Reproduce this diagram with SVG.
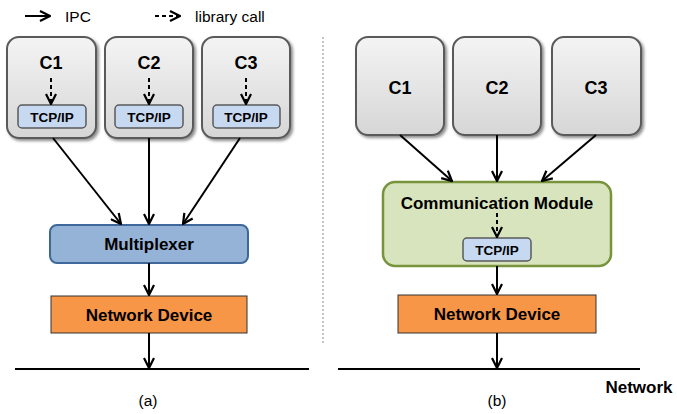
<svg xmlns="http://www.w3.org/2000/svg" width="677" height="414" viewBox="0 0 677 414">
<defs>
<linearGradient id="gray" x1="0" y1="0" x2="0" y2="1">
<stop offset="0" stop-color="#f4f4f4"/>
<stop offset="1" stop-color="#d6d6d6"/>
</linearGradient>
<filter id="sh" x="-10%" y="-10%" width="130%" height="130%">
<feDropShadow dx="2" dy="2" stdDeviation="1.5" flood-color="#000" flood-opacity="0.45"/>
</filter>
<marker id="ah" viewBox="0 0 12 12" refX="11" refY="6" markerWidth="12" markerHeight="12" markerUnits="userSpaceOnUse" orient="auto">
<path d="M1,1 L11,6 L1,11" fill="none" stroke="#000" stroke-width="2.2"/>
</marker>
</defs>
<style>
.cbox{fill:url(#gray);stroke:#5a5a5a;stroke-width:2;filter:url(#sh)}
.tcp{fill:#c6d9f1;stroke:#595959;stroke-width:1.5}
.lbl{font-family:"Liberation Sans",Arial,sans-serif;font-weight:bold;fill:#000;text-anchor:middle}
.cl{font-size:18px}
.tl{font-size:13.5px}
.bl{font-size:17px}
.nl{font-family:"Liberation Sans",Arial,sans-serif;fill:#000;font-size:15.5px}
.arr{stroke:#000;stroke-width:2;fill:none;marker-end:url(#ah)}
.dash{stroke:#000;stroke-width:2;fill:none;stroke-dasharray:4,3;marker-end:url(#ah)}
</style>

<g id="legend">
<line x1="25" y1="16" x2="50" y2="16" class="arr"/>
<text x="65" y="22" class="nl">IPC</text>
<line x1="155" y1="16" x2="180" y2="16" class="dash"/>
<text x="195" y="22" class="nl">library call</text>
</g>

<g id="a-c1">
<rect x="7" y="37" width="89" height="101" rx="12" class="cbox"/>
<text x="51" y="69" class="lbl cl">C1</text>
<rect x="18" y="105" width="68" height="23" rx="4" class="tcp"/>
<text x="52" y="121.5" class="lbl tl">TCP/IP</text>
</g>
<g id="a-c2">
<rect x="105" y="37" width="88" height="101" rx="12" class="cbox"/>
<text x="149" y="69" class="lbl cl">C2</text>
<rect x="115" y="105" width="68" height="23" rx="4" class="tcp"/>
<text x="149" y="121.5" class="lbl tl">TCP/IP</text>
</g>
<g id="a-c3">
<rect x="202" y="37" width="88" height="101" rx="12" class="cbox"/>
<text x="246" y="69" class="lbl cl">C3</text>
<rect x="213" y="105" width="67" height="23" rx="4" class="tcp"/>
<text x="246" y="121.5" class="lbl tl">TCP/IP</text>
</g>
<g id="a-mux">
<rect x="50" y="225" width="198" height="38" rx="7" fill="#95b3d7" stroke="#3d6899" stroke-width="2"/>
<text x="149" y="250" class="lbl bl">Multiplexer</text>
</g>
<g id="a-nd">
<rect x="51" y="296" width="196" height="37" fill="#f79646" stroke="#333" stroke-width="1"/>
<text x="149" y="320.5" class="lbl bl">Network Device</text>
</g>
<g id="a-net">
<line x1="15" y1="369" x2="309" y2="369" stroke="#000" stroke-width="2"/>
<text x="148" y="406" class="nl" text-anchor="middle">(a)</text>
</g>

<g id="sep">
<line x1="323" y1="37" x2="323" y2="343" stroke="#888" stroke-width="1" stroke-dasharray="2,2"/>
</g>

<g id="b-c1">
<rect x="356" y="37" width="88" height="98" rx="12" class="cbox"/>
<text x="400" y="94" class="lbl cl">C1</text>
</g>
<g id="b-c2">
<rect x="453" y="37" width="88" height="98" rx="12" class="cbox"/>
<text x="497" y="94" class="lbl cl">C2</text>
</g>
<g id="b-c3">
<rect x="552" y="37" width="89" height="98" rx="12" class="cbox"/>
<text x="596" y="94" class="lbl cl">C3</text>
</g>
<g id="b-cm">
<rect x="383" y="182" width="228" height="84" rx="12" fill="#d7e4bd" stroke="#77933c" stroke-width="2.5"/>
<text x="497" y="209" class="lbl bl">Communication Module</text>
<rect x="463" y="238" width="68" height="23" rx="4" class="tcp"/>
<text x="497" y="254.5" class="lbl tl">TCP/IP</text>
</g>
<g id="b-nd">
<rect x="398" y="295" width="198" height="38" fill="#f79646" stroke="#333" stroke-width="1"/>
<text x="497" y="320" class="lbl bl">Network Device</text>
</g>
<g id="b-net">
<line x1="338" y1="369" x2="640" y2="369" stroke="#000" stroke-width="2"/>
<text x="497" y="406" class="nl" text-anchor="middle">(b)</text>
<text x="639" y="393" class="lbl bl">Network</text>
</g>

<g id="connectors">
<line x1="51" y1="78" x2="51" y2="104" class="dash"/>
<line x1="149" y1="78" x2="149" y2="104" class="dash"/>
<line x1="246" y1="78" x2="246" y2="104" class="dash"/>
<line x1="53" y1="138" x2="121" y2="224" class="arr"/>
<line x1="149" y1="138" x2="149" y2="224" class="arr"/>
<line x1="240" y1="138" x2="183" y2="224" class="arr"/>
<line x1="149" y1="263" x2="149" y2="295" class="arr"/>
<line x1="149" y1="333" x2="149" y2="368" class="arr"/>
<line x1="400" y1="135" x2="452" y2="181" class="arr"/>
<line x1="497" y1="135" x2="497" y2="181" class="arr"/>
<line x1="596" y1="135" x2="542" y2="181" class="arr"/>
<line x1="497" y1="213" x2="497" y2="237" class="dash"/>
<line x1="497" y1="266" x2="497" y2="294" class="arr"/>
<line x1="497" y1="333" x2="497" y2="368" class="arr"/>
</g>
</svg>
